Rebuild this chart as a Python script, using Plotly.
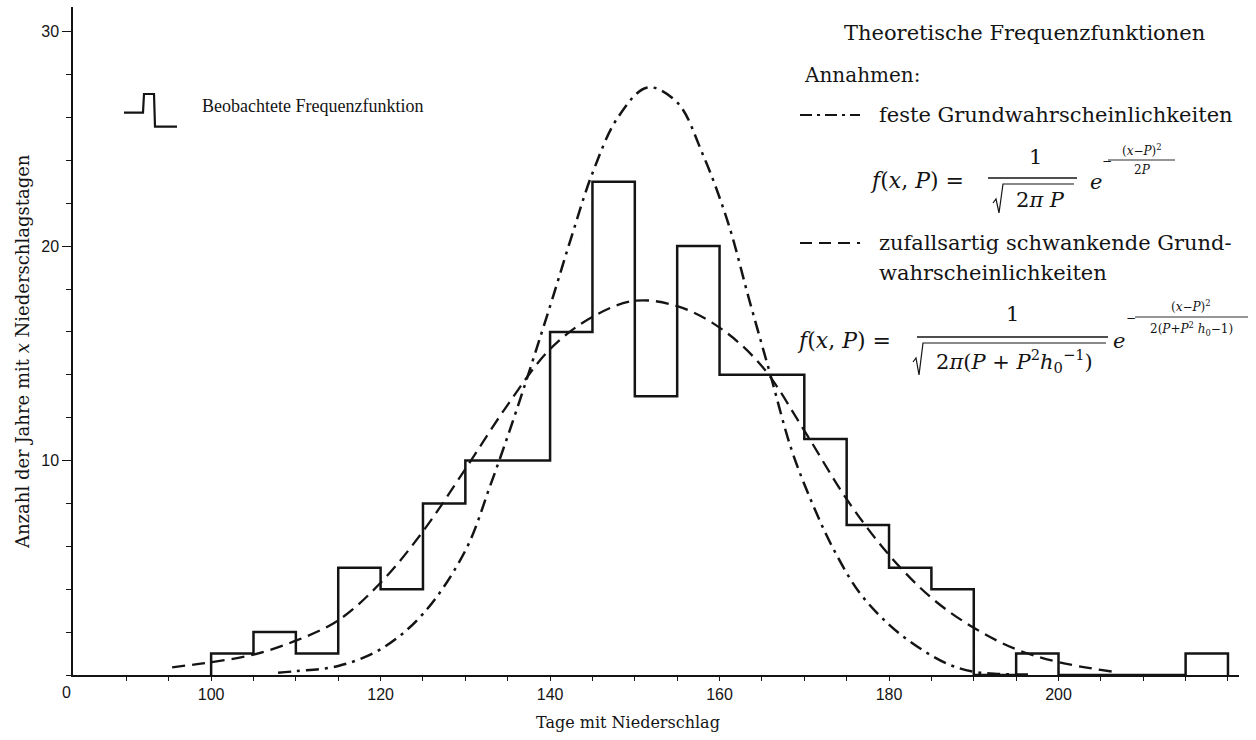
import plotly.graph_objects as go

# ---------------- data ----------------
bin_edges = [100, 105, 110, 115, 120, 125, 130, 135, 140, 145, 150, 155, 160,
             165, 170, 175, 180, 185, 190, 195, 200, 205, 210, 215, 220]
counts = [1, 2, 1, 5, 4, 8, 10, 10, 16, 23, 13, 20, 14, 14, 11, 7, 5, 4, 0, 1, 0, 0, 0, 1]

# theoretical curve: fixed base probabilities (dash-dot)
fixed_x = [107.9, 110, 115, 120, 125, 130, 133, 136, 140, 142.5, 145, 148, 151.5,
           155, 158, 161, 163.5, 166, 168.5, 171, 173.5, 176.5, 180, 183.5, 187, 190, 193, 197]
fixed_y = [0.1, 0.18, 0.42, 1.2, 2.85, 5.8, 8.9, 12.3, 17.2, 20.4, 23.4, 26.0, 27.4,
           26.7, 24.3, 21.1, 17.5, 14.0, 10.5, 7.95, 5.83, 3.85, 2.35, 1.28, 0.5, 0.15, 0.05, 0.02]

# theoretical curve: randomly fluctuating base probabilities (dashed)
rand_x = [95.4, 100, 105, 110, 115, 120, 125, 130, 135, 140, 145, 150, 155, 160,
          165, 170, 175, 180, 185, 190, 195, 200, 206.5]
rand_y = [0.36, 0.6, 0.95, 1.6, 2.55, 4.3, 6.7, 9.6, 12.6, 15.2, 16.7, 17.45, 17.2, 16.2,
          14.4, 11.4, 8.2, 5.6, 3.6, 2.2, 1.2, 0.6, 0.15]

x_minor_ticks = list(range(90, 221, 5))
x_tick_labels = [100, 120, 140, 160, 180, 200]
y_tick_vals = [10, 20, 30]

# ---------------- geometry helpers ----------------
L, R, T, B = 73, 1239, 7, 675
def px(x):
    return (x - L) / (R - L)
def py(y):
    return (B - y) / (B - T)

INK = "#141414"
SERIF = "DejaVu Serif"
SANS = "Liberation Sans"

fig = go.Figure()

step_x = [bin_edges[0]] + bin_edges[:-1] + [bin_edges[-1]]
step_y = [0] + counts + [0]

fig.add_trace(go.Scatter(x=rand_x, y=rand_y, mode="lines",
                         line=dict(color=INK, width=2.3, dash="13px,7px", shape="spline", smoothing=1.0),
                         hoverinfo="skip"))
fig.add_trace(go.Scatter(x=fixed_x, y=fixed_y, mode="lines",
                         line=dict(color=INK, width=2.5, dash="13px,6px,3px,6px", shape="spline", smoothing=1.0),
                         hoverinfo="skip"))
fig.add_trace(go.Scatter(x=step_x, y=step_y, mode="lines",
                         line=dict(color=INK, width=2.5, shape="hv"),
                         hoverinfo="skip"))

anns = []
def txt(text, x, y, size=19, family=SERIF, xanchor="left", yanchor="middle", angle=0):
    anns.append(dict(text=text, x=px(x), y=py(y), xref="paper", yref="paper",
                     xanchor=xanchor, yanchor=yanchor, showarrow=False, textangle=angle,
                     font=dict(family=family, size=size, color=INK)))

shapes = []
def seg(x0, y0, x1, y1, width=1.3, dash="solid"):
    shapes.append(dict(type="line", xref="paper", yref="paper",
                       x0=px(x0), y0=py(y0), x1=px(x1), y1=py(y1),
                       line=dict(color=INK, width=width, dash=dash)))
def path(points, width=1.5):
    d = "M " + " L ".join(f"{px(a):.5f},{py(b):.5f}" for a, b in points)
    shapes.append(dict(type="path", xref="paper", yref="paper", path=d,
                       line=dict(color=INK, width=width)))

# observed legend
path([(124, 112.7), (143, 112.7), (144, 94), (154, 94), (155, 126.7), (177, 126.7)], width=2.2)
txt("Beobachtete Frequenzfunktion", 200, 106, size=18, family="Liberation Serif")

# theoretical block
txt("Theoretische Frequenzfunktionen", 842, 33, size=21)
txt("Annahmen:", 802, 75, size=20)
seg(800, 115, 860, 115, width=2, dash="12px,5px,3px,5px")
txt("feste Grundwahrscheinlichkeiten", 877, 115, size=21)

# formula 1
txt("<i>f</i>(<i>x</i>, <i>P</i>) =", 868, 180, size=22)
txt("1", 1035, 157, size=21, xanchor="center")
seg(988, 178, 1077, 178)
path([(993, 203), (996, 199), (999, 213), (1003, 184), (1074, 184)], width=1.2)
txt("2<i>π P</i>", 1040, 200, size=21, xanchor="center")
txt("<i>e</i>", 1088, 182, size=21)
txt("−", 1100, 161, size=12)
txt("(<i>x</i>−<i>P</i>)<sup>2</sup>", 1142, 150, size=12, xanchor="center")
seg(1108, 160, 1175, 160, width=0.9)
txt("2<i>P</i>", 1142, 170, size=12, xanchor="center")

seg(800, 243, 860, 243, width=2, dash="12px,7px")
txt("zufallsartig schwankende Grund-", 877, 243, size=21)
txt("wahrscheinlichkeiten", 877, 273, size=21)

# formula 2
txt("<i>f</i>(<i>x</i>, <i>P</i>) =", 795, 340, size=22)
txt("1", 1012, 314, size=21, xanchor="center")
seg(917, 337, 1108, 337)
path([(913, 362), (916, 358), (919, 375), (923, 343), (1106, 343)], width=1.2)
txt("2<i>π</i>(<i>P</i> + <i>P</i><sup>2</sup><i>h</i><sub>0</sub><sup>−1</sup>)", 1014, 361, size=21, xanchor="center")
txt("<i>e</i>", 1111, 341, size=21)
txt("−", 1124, 318, size=12)
txt("(<i>x</i>−<i>P</i>)<sup>2</sup>", 1191, 306, size=12, xanchor="center")
seg(1135, 317, 1248, 317, width=0.9)
txt("2(<i>P</i>+<i>P</i><sup>2</sup> <i>h</i><sub>0</sub>−1)", 1191, 329, size=12, xanchor="center")

# axis titles and origin label
txt("Tage mit Niederschlag", 628, 722, size=16, xanchor="center")
txt("Anzahl der Jahre mit <i>x</i> Niederschlagstagen", 22, 352, size=18, xanchor="center", angle=-90)
txt("0", 66, 692, size=16, family=SANS, xanchor="center")

fig.update_layout(
    width=1256, height=740,
    margin=dict(l=L, r=1256 - R, t=T, b=740 - B),
    plot_bgcolor="white", paper_bgcolor="white",
    showlegend=False,
    annotations=anns, shapes=shapes,
    xaxis=dict(range=[83.7, 221.3], showgrid=False, zeroline=False,
               showline=True, linecolor=INK, linewidth=1.5,
               ticks="outside", ticklen=4, tickwidth=1.3, tickcolor=INK,
               tickmode="array", tickvals=x_tick_labels,
               ticktext=[str(v) for v in x_tick_labels],
               tickfont=dict(family=SANS, size=16, color=INK),
               minor=dict(tickmode="array", tickvals=x_minor_ticks, ticks="outside",
                          ticklen=4, tickwidth=1.3, tickcolor=INK)),
    yaxis=dict(range=[0, 31.15], showgrid=False, zeroline=False,
               showline=True, linecolor=INK, linewidth=1.5,
               ticks="outside", ticklen=9, tickwidth=1.3, tickcolor=INK,
               tickmode="array", tickvals=y_tick_vals,
               ticktext=[str(v) for v in y_tick_vals],
               tickfont=dict(family=SANS, size=16, color=INK),
               minor=dict(tickmode="linear", tick0=0, dtick=2, ticks="outside",
                          ticklen=5, tickwidth=1.2, tickcolor=INK)),
)

fig.write_html("out.html",
               config={"displayModeBar": False},
               post_script="document.body.style.margin='0px';document.body.style.padding='0px';")
